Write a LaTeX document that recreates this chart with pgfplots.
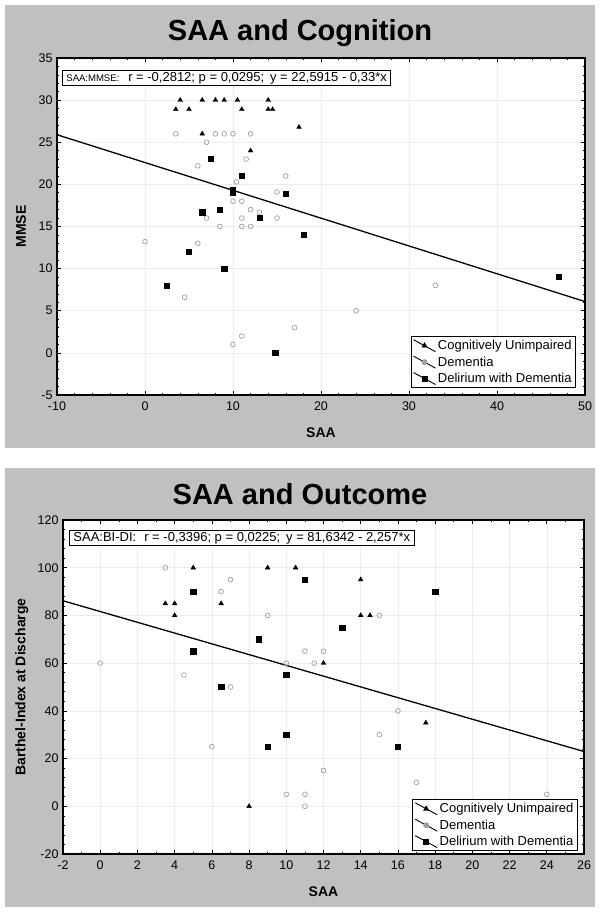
\documentclass[border=0pt]{standalone}
\usepackage{fontspec}
\setmainfont{Liberation Sans}
\usepackage{pgfplots}
\pgfplotsset{compat=1.18}

\definecolor{panelgray}{RGB}{192,192,192}
\definecolor{dotgray}{RGB}{160,160,160}
\definecolor{gridgray}{RGB}{236,236,236}

\newcommand{\tickfont}{\fontsize{12.5}{14}\selectfont}
\newcommand{\labfont}{\fontsize{14}{16}\selectfont\bfseries}
\newcommand{\titlefont}{\fontsize{29}{32}\selectfont\bfseries}

\pgfplotsset{
  statfig/.style={
    scale only axis,
    axis background/.style={fill=white},
    axis line style={black, line width=1.1pt},
    tick align=inside,
    tick pos=both,
    major tick length=4pt,
    minor tick length=2pt,
    tick style={black, line width=0.6pt},
    grid=major,
    major grid style={gridgray, line width=0.5pt},
    ticklabel style={font=\tickfont},
    xticklabel style={yshift=-3pt},
    yticklabel style={xshift=-1pt},
    /pgf/number format/assume math mode=true,
    label style={font=\labfont},
    xlabel style={at={(axis description cs:0.5,0)}, anchor=center, yshift=-38pt},
    legend cell align=left,
    legend style={draw=black, line width=0.8pt, fill=white,
      font=\fontsize{13}{15}\selectfont,
      inner xsep=2pt, inner ysep=1.5pt, row sep=1.5pt},
    legend image code/.code={%
      \draw[black, line width=0.9pt] (0pt,6pt) -- (22pt,-6pt);
      \draw[mark repeat=2, mark phase=2, #1] plot coordinates {(0pt,0pt) (11pt,0pt) (22pt,0pt)};
    },
  },
  cu/.style={only marks, mark=triangle*, mark size=2.7pt, black},
  dem/.style={only marks, mark=o, mark size=2.4pt, draw=dotgray, line width=0.7pt,
    legend image code/.code={%
      \draw[black, line width=0.9pt] (0pt,6pt) -- (22pt,-6pt);
      \fill[dotgray] (11pt,0pt) circle (2.6pt);
    }},
  del/.style={only marks, mark=square*, mark size=2.6pt, black},
}

\begin{document}
\begin{tikzpicture}
\path[use as bounding box] (0pt,0pt) rectangle (600pt,912pt);
\fill[panelgray] (5pt,464pt) rectangle (595pt,907pt);
\fill[panelgray] (5pt,5pt) rectangle (595pt,444pt);
\node at (300pt,879pt) {\titlefont SAA and Cognition};
\node at (300pt,418pt) {\titlefont SAA and Outcome};

% top panel: SAA vs MMSE
\begin{axis}[statfig,
  at={(57pt,517pt)}, anchor=south west,
  width=528pt, height=337pt,
  xmin=-10, xmax=50, ymin=-5, ymax=35,
  xtick={-10,0,...,50}, ytick={-5,0,...,35},
  minor x tick num=4, minor y tick num=4,
  xlabel={SAA}, ylabel={MMSE},
  ylabel style={at={(axis description cs:-0.068,0.5)}, anchor=center},
  legend style={at={(0.983,0.021)}, anchor=south east},
]
\addplot[cu] coordinates {
  (4,30) (6.5,30) (8,30) (9,30) (10.5,30) (14,30)
  (3.5,28.9) (5,28.9) (11,28.9) (14,28.9) (14.5,28.9)
  (17.5,26.8) (6.5,26) (12,24)
};
\addlegendentry{Cognitively Unimpaired}
\addplot[dem] coordinates {
  (3.5,26) (8,26) (9,26) (10,26) (12,26) (7,25) (11.5,23) (6,22.2)
  (16,21) (10.4,20.3) (15,19.1) (10,18) (11,18) (12,17) (13,16.7)
  (7,16) (11,16) (15,16) (8.5,15) (11,15) (12,15) (0,13.2) (6,13)
  (4.5,6.6) (10,1) (11,2) (17,3) (33,8) (24,5)
};
\addlegendentry{Dementia}
\addplot[del] coordinates {
  (7.5,23) (11,21) (10,19.3) (10,19) (16,18.9) (6.5,16.7) (8.5,17)
  (13,16) (18,14) (5,12) (9,10) (2.5,8) (14.8,0) (47,9)
};
\addlegendentry{Delirium with Dementia}
% regression y = 22,5915 - 0,33*x
\addplot[black, line width=1.3pt, forget plot] coordinates {(-10,25.89) (50,6.09)};
\node[anchor=north west, draw=black, line width=0.9pt, fill=white,
  inner xsep=4pt, inner ysep=1.5pt, font=\fontsize{13}{15}\selectfont]
  at (rel axis cs:0.0095,0.964)
  {{\fontsize{9.5}{11}\selectfont SAA:MMSE:}\hspace{9pt}r = -0,2812; p = 0,0295;\hspace{6pt}y = 22,5915 - 0,33*x};
\end{axis}

% bottom panel: SAA vs Barthel index
\begin{axis}[statfig,
  at={(63pt,58pt)}, anchor=south west,
  width=521pt, height=334pt,
  xmin=-2, xmax=26, ymin=-20, ymax=120,
  xtick={-2,0,...,26}, ytick={-20,0,...,120},
  minor x tick num=1, minor y tick num=4,
  xlabel={SAA}, ylabel={Barthel-Index at Discharge},
  ylabel style={at={(axis description cs:-0.079,0.5)}, anchor=center},
  legend style={at={(0.988,0.009)}, anchor=south east},
]
\addplot[cu] coordinates {
  (5,100) (9,100) (10.5,100) (14,95) (3.5,85) (4,85) (6.5,85)
  (4,80) (14,80) (14.5,80) (12,60) (17.5,35) (8,0)
};
\addlegendentry{Cognitively Unimpaired}
\addplot[dem] coordinates {
  (3.5,100) (7,95) (6.5,90) (9,80) (15,80) (11,65) (12,65) (11.5,60)
  (10,60) (0,60) (4.5,55) (7,50) (16,40) (15,30) (6,25) (12,15)
  (17,10) (10,5) (11,5) (11,0) (24,5)
};
\addlegendentry{Dementia}
\addplot[del] coordinates {
  (5,90) (11,95) (18,90) (13,75) (8.5,70) (5,65) (10,55) (6.5,50)
  (10,30) (16,25) (9,25)
};
\addlegendentry{Delirium with Dementia}
% regression y = 81,6342 - 2,257*x
\addplot[black, line width=1.3pt, forget plot] coordinates {(-2,86.15) (26,22.95)};
\node[anchor=north west, draw=black, line width=0.9pt, fill=white,
  inner xsep=4pt, inner ysep=1.5pt, font=\fontsize{13}{15}\selectfont]
  at (rel axis cs:0.0115,0.97)
  {SAA:BI-DI:\hspace{8pt}r = -0,3396; p = 0,0225;\hspace{6pt}y = 81,6342 - 2,257*x};
\end{axis}
\end{tikzpicture}
\end{document}
